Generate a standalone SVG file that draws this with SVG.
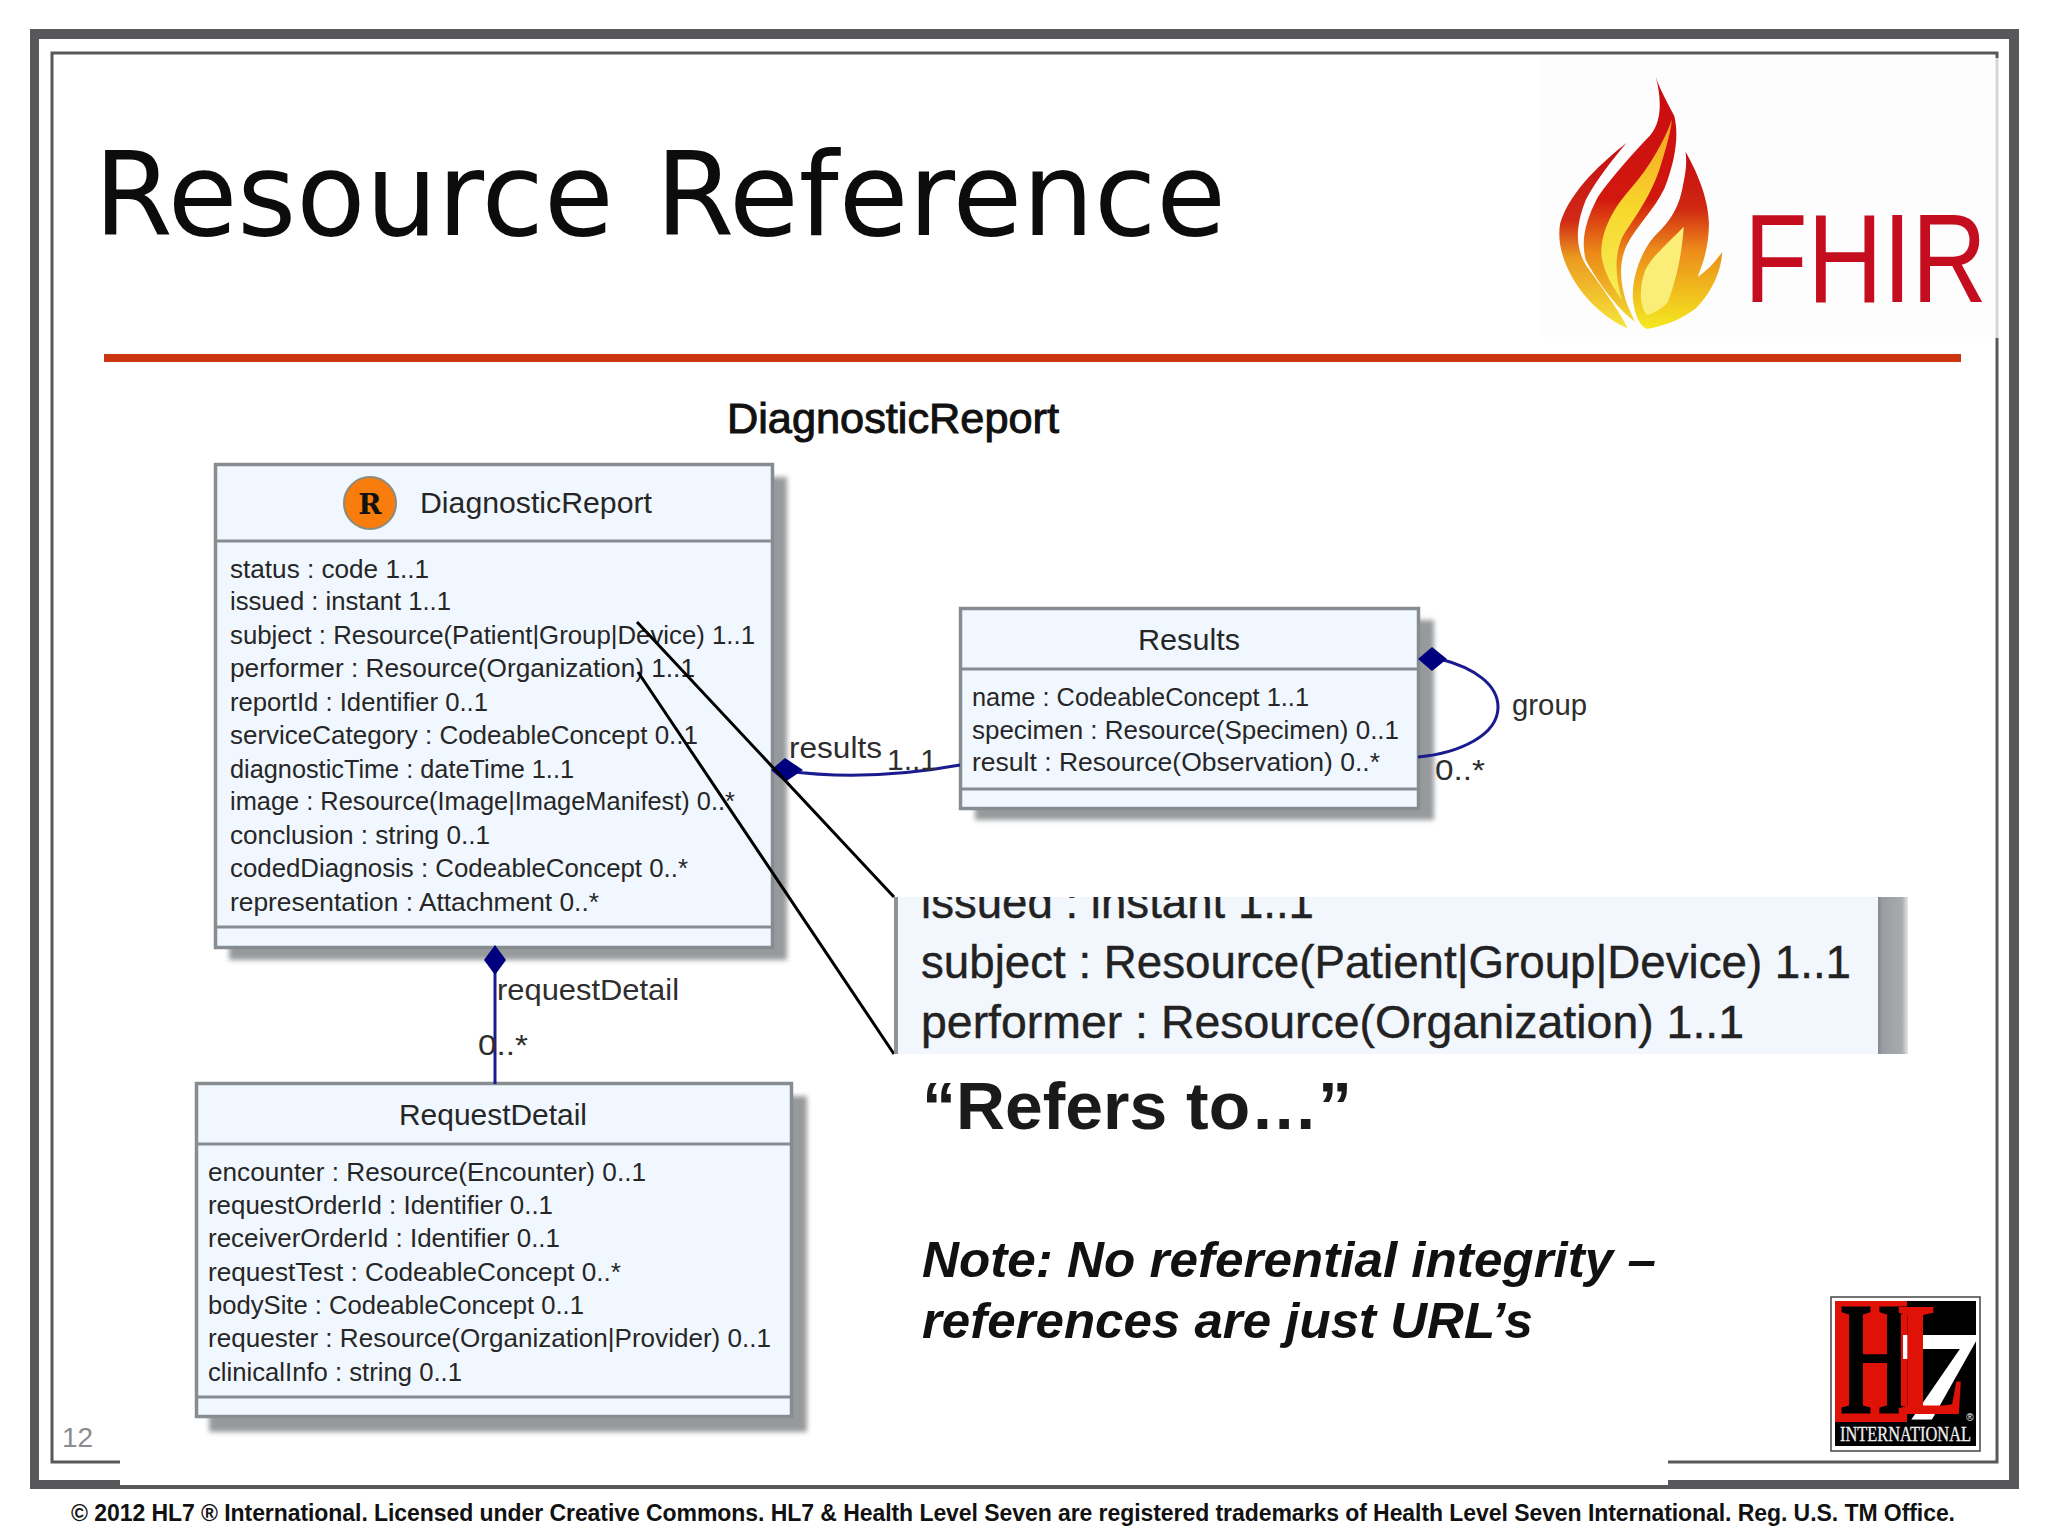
<svg xmlns="http://www.w3.org/2000/svg" width="2048" height="1536" viewBox="0 0 2048 1536">
<style>
text{font-family:"Liberation Sans",Arial,sans-serif}
.box{fill:#f1f7fe;stroke:#868c90;stroke-width:3.5}
.div{stroke:#868c90;stroke-width:3}
.shadow{fill:#979a9c;filter:url(#soft)}
.t{font-size:26px;fill:#262626}
.h{font-size:29px;fill:#262626}
.lab{font-size:30px;fill:#2e2e2e}
.conn{fill:none;stroke:#1b1b90;stroke-width:3}
.dia{fill:#00007f}
.frame{fill:none;stroke:#58585a;stroke-width:3}
.note{font-size:50px;font-weight:bold;font-style:italic;fill:#111}
.zoomt{font-size:46px;fill:#222;stroke:#222;stroke-width:.4}
.logo{font-family:"Liberation Serif",serif}
</style>
<defs>
<filter id="soft" x="-5%" y="-5%" width="110%" height="110%"><feGaussianBlur stdDeviation="2.500"/></filter>
<linearGradient id="f1" x1="0" y1="0" x2="0" y2="1"><stop offset="0" stop-color="#c40d14"/><stop offset=".42" stop-color="#d02a16"/><stop offset=".62" stop-color="#eb9a20"/><stop offset="1" stop-color="#f6e63a"/></linearGradient>
<linearGradient id="f2" x1="0" y1="0" x2="0" y2="1"><stop offset="0" stop-color="#c80b12"/><stop offset=".5" stop-color="#d2180e"/><stop offset=".72" stop-color="#ec8a18"/><stop offset="1" stop-color="#f0d92f"/></linearGradient>
<linearGradient id="f3" x1="0" y1="0" x2="0" y2="1"><stop offset="0" stop-color="#c40c10"/><stop offset=".32" stop-color="#d02812"/><stop offset=".55" stop-color="#ec8a1a"/><stop offset="1" stop-color="#f4ea20"/></linearGradient>
<linearGradient id="f4" x1="0" y1="0" x2="0" y2="1"><stop offset="0" stop-color="#f4a024"/><stop offset=".5" stop-color="#f8d82c"/><stop offset="1" stop-color="#f6ee5a"/></linearGradient>
<linearGradient id="bar" x1="0" y1="0" x2="1" y2="0"><stop offset="0" stop-color="#85888e"/><stop offset=".15" stop-color="#9a9da2"/><stop offset=".8" stop-color="#a9abae"/><stop offset="1" stop-color="#e4e6ea"/></linearGradient>
<clipPath id="zc"><rect x="894" y="897" width="1014" height="157"/></clipPath>
</defs>
<rect width="2048" height="1536" fill="#fff"/>

<g id="frame">
<path fill="#58585a" d="M30 29H2019V1489H30ZM39 39V1480H2009V39Z"/>
<rect class="frame" x="52" y="53" width="1945" height="1409"/>
<rect x="120" y="1455" width="1548" height="30" fill="#fff"/>
</g>

<g id="fhir-logo">
<rect x="1540" y="55" width="455" height="282" fill="#fdfdfd"/>
<rect x="1995" y="58" width="4" height="280" fill="#fff" opacity=".75"/>
<g transform="translate(1500,20) scale(.35,.3333)">
<path fill="url(#f1)" d="M362 368C300 420 200 510 172 610C160 680 190 770 262 850C300 890 340 915 365 925C345 880 290 800 245 735C215 680 215 620 245 540C275 480 320 420 362 368Z"/>
<path fill="url(#f2)" d="M445 170C455 205 480 250 498 288C510 340 505 410 470 505C440 570 390 620 365 670C340 720 340 780 362 850L385 905C340 870 280 790 245 720C230 660 245 600 280 530C320 470 380 400 430 345C465 300 460 230 445 170Z"/>
<path fill="url(#f4)" d="M492 298C470 360 430 440 370 510C320 570 285 640 290 710C300 770 330 810 348 840C330 770 325 710 350 650C385 590 425 540 455 450C470 400 485 350 492 298Z"/>
<path fill="url(#f3)" d="M530 395C560 450 595 530 597 610C597 680 580 730 565 770C590 755 620 720 635 695C632 750 610 810 560 865C510 905 460 920 420 927C395 915 385 880 380 840C375 780 400 700 440 650C480 610 510 570 522 500C530 460 535 430 530 395Z"/>
<path fill="#fbee78" d="M525 620C520 690 510 760 480 845C470 860 440 880 420 885C400 860 395 810 415 750C440 700 490 660 525 620Z"/>
</g>
<text x="1744" y="302" font-size="126" fill="#c40e20" textLength="243" lengthAdjust="spacingAndGlyphs">FHIR</text>
</g>

<text id="title" x="94" y="235" font-size="116" fill="#0c0c0c" word-spacing="6" style="font-family:'DejaVu Sans',sans-serif" textLength="1132" lengthAdjust="spacingAndGlyphs">Resource Reference</text>
<rect id="rule" x="104" y="354" width="1857" height="8" fill="#cc3410"/>
<text id="subtitle" x="727" y="433" font-size="43" fill="#111" stroke="#111" stroke-width="1" textLength="332" lengthAdjust="spacingAndGlyphs">DiagnosticReport</text>

<g id="DiagnosticReport">
<rect class="shadow" x="229" y="477" width="558" height="483"/>
<rect class="box" x="215.500" y="464.500" width="557" height="483"/>
<path class="div" d="M215 541H772M215 927H772"/>
<circle cx="370" cy="503" r="26" fill="#f97d0c" stroke="#8a8a80" stroke-width="2"/>
<text x="370" y="514" font-size="28" font-weight="bold" text-anchor="middle" fill="#111" style="font-family:'DejaVu Serif',serif">R</text>
<text class="h" x="420" y="513" textLength="232" lengthAdjust="spacingAndGlyphs">DiagnosticReport</text>
<text class="t" x="230" y="578" textLength="199" lengthAdjust="spacingAndGlyphs">status : code 1..1</text>
<text class="t" x="230" y="610" textLength="221" lengthAdjust="spacingAndGlyphs">issued : instant 1..1</text>
<text class="t" x="230" y="644" textLength="525" lengthAdjust="spacingAndGlyphs">subject : Resource(Patient|Group|Device) 1..1</text>
<text class="t" x="230" y="677" textLength="465" lengthAdjust="spacingAndGlyphs">performer : Resource(Organization) 1..1</text>
<text class="t" x="230" y="711" textLength="258" lengthAdjust="spacingAndGlyphs">reportId : Identifier 0..1</text>
<text class="t" x="230" y="744" textLength="468" lengthAdjust="spacingAndGlyphs">serviceCategory : CodeableConcept 0..1</text>
<text class="t" x="230" y="778" textLength="344" lengthAdjust="spacingAndGlyphs">diagnosticTime : dateTime 1..1</text>
<text class="t" x="230" y="810" textLength="505" lengthAdjust="spacingAndGlyphs">image : Resource(Image|ImageManifest) 0..*</text>
<text class="t" x="230" y="844" textLength="260" lengthAdjust="spacingAndGlyphs">conclusion : string 0..1</text>
<text class="t" x="230" y="877" textLength="458" lengthAdjust="spacingAndGlyphs">codedDiagnosis : CodeableConcept 0..*</text>
<text class="t" x="230" y="911" textLength="369" lengthAdjust="spacingAndGlyphs">representation : Attachment 0..*</text>
</g>

<g id="Results">
<rect class="shadow" x="975" y="620" width="459" height="200"/>
<rect class="box" x="960.500" y="608.500" width="458" height="200"/>
<path class="div" d="M960 669H1418M960 789H1418"/>
<text class="h" x="1138" y="650" textLength="102" lengthAdjust="spacingAndGlyphs">Results</text>
<text class="t" x="972" y="706" textLength="337" lengthAdjust="spacingAndGlyphs">name : CodeableConcept 1..1</text>
<text class="t" x="972" y="739" textLength="427" lengthAdjust="spacingAndGlyphs">specimen : Resource(Specimen) 0..1</text>
<text class="t" x="972" y="771" textLength="408" lengthAdjust="spacingAndGlyphs">result : Resource(Observation) 0..*</text>
</g>

<g id="RequestDetail">
<rect class="shadow" x="209" y="1096" width="598" height="336"/>
<rect class="box" x="196.500" y="1083.500" width="595" height="333"/>
<path class="div" d="M196 1144H792M196 1397H792"/>
<text class="h" x="399" y="1125" textLength="188" lengthAdjust="spacingAndGlyphs">RequestDetail</text>
<text class="t" x="208" y="1181" textLength="438" lengthAdjust="spacingAndGlyphs">encounter : Resource(Encounter) 0..1</text>
<text class="t" x="208" y="1214" textLength="345" lengthAdjust="spacingAndGlyphs">requestOrderId : Identifier 0..1</text>
<text class="t" x="208" y="1247" textLength="352" lengthAdjust="spacingAndGlyphs">receiverOrderId : Identifier 0..1</text>
<text class="t" x="208" y="1281" textLength="413" lengthAdjust="spacingAndGlyphs">requestTest : CodeableConcept 0..*</text>
<text class="t" x="208" y="1314" textLength="376" lengthAdjust="spacingAndGlyphs">bodySite : CodeableConcept 0..1</text>
<text class="t" x="208" y="1347" textLength="563" lengthAdjust="spacingAndGlyphs">requester : Resource(Organization|Provider) 0..1</text>
<text class="t" x="208" y="1381" textLength="254" lengthAdjust="spacingAndGlyphs">clinicalInfo : string 0..1</text>
</g>

<g id="connectors">
<path class="conn" d="M785 771C840 778 900 776 960 765"/>
<path class="dia" d="M771 770L785 758L803 770L785 782Z"/>
<path class="conn" d="M1440 659C1475 668 1498 685 1498 707C1498 735 1460 753 1418 757"/>
<path class="dia" d="M1418 659L1432 647L1447 659L1432 671Z"/>
<path class="conn" d="M495 965V1084"/>
<path class="dia" d="M495 945L506 960L495 975L484 960Z"/>
</g>

<g id="connector-labels">
<text class="lab" x="789" y="758" textLength="93" lengthAdjust="spacingAndGlyphs">results</text>
<text class="lab" x="887" y="770" textLength="50" lengthAdjust="spacingAndGlyphs">1..1</text>
<text class="lab" x="1512" y="715" textLength="75" lengthAdjust="spacingAndGlyphs">group</text>
<text class="lab" x="1435" y="780" textLength="50" lengthAdjust="spacingAndGlyphs">0..*</text>
<text class="lab" x="497" y="1000" textLength="182" lengthAdjust="spacingAndGlyphs">requestDetail</text>
<text class="lab" x="478" y="1055" textLength="50" lengthAdjust="spacingAndGlyphs">0..*</text>
</g>

<g id="callout">
<path d="M637 622L894 897M638 672L894 1054" fill="none" stroke="#000" stroke-width="3"/>
<g clip-path="url(#zc)">
<rect x="894" y="897" width="984" height="157" fill="#f2f7fd"/>
<rect x="894" y="897" width="4" height="157" fill="#8f9398"/>
<rect x="1878" y="897" width="30" height="157" fill="url(#bar)"/>
<text class="zoomt" x="921" y="918" textLength="393" lengthAdjust="spacingAndGlyphs">issued : instant 1..1</text>
<text class="zoomt" x="921" y="978" textLength="930" lengthAdjust="spacingAndGlyphs">subject : Resource(Patient|Group|Device) 1..1</text>
<text class="zoomt" x="921" y="1038" textLength="823" lengthAdjust="spacingAndGlyphs">performer : Resource(Organization) 1..1</text>
</g>
</g>

<text id="refers" x="922" y="1129" font-size="66" font-weight="bold" fill="#1a1a1a" textLength="430" lengthAdjust="spacingAndGlyphs">“Refers to…”</text>
<text class="note" x="922" y="1277" textLength="734" lengthAdjust="spacingAndGlyphs">Note: No referential integrity –</text>
<text class="note" x="922" y="1338" textLength="611" lengthAdjust="spacingAndGlyphs">references are just URL’s</text>

<g id="hl7-logo">
<rect x="1831" y="1297" width="149" height="154" fill="#fff" stroke="#444" stroke-width="1.500"/>
<rect x="1835" y="1301" width="141" height="145" fill="#000"/>
<rect x="1835" y="1301" width="72" height="121" fill="#e01208"/>
<text class="logo" x="1893" y="1420" font-size="130" font-weight="bold" fill="#fff" textLength="88" lengthAdjust="spacingAndGlyphs">7</text>
<text class="logo" x="1840" y="1414" font-size="164" font-weight="bold" fill="#000" textLength="70" lengthAdjust="spacingAndGlyphs">H</text>
<text class="logo" x="1897" y="1414" font-size="164" font-weight="bold" fill="#e01208" textLength="68" lengthAdjust="spacingAndGlyphs">L</text>
<text x="1970" y="1421" font-size="10" fill="#fff" text-anchor="middle">®</text>
<text class="logo" x="1840" y="1441" font-size="20" fill="#eee" stroke="#eee" stroke-width=".3" textLength="131" lengthAdjust="spacingAndGlyphs">INTERNATIONAL</text>
</g>

<text id="page" x="62" y="1447" font-size="28" fill="#8c8c8c">12</text>
<text id="footer" x="71" y="1521" font-size="23" font-weight="bold" fill="#111" textLength="1884" lengthAdjust="spacing">© 2012 HL7 ® International. Licensed under Creative Commons. HL7 &amp; Health Level Seven are registered trademarks of Health Level Seven International. Reg. U.S. TM Office.</text>
</svg>
